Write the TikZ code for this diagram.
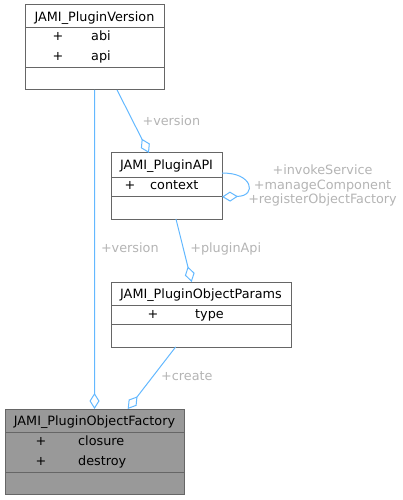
\documentclass[tikz,border=0pt]{standalone}
\usepackage{fontspec}
\setmainfont{DejaVu Sans}
\usetikzlibrary{arrows.meta,positioning}
\definecolor{edgeblue}{HTML}{63B8FF}
\definecolor{boxgray}{HTML}{666666}
\definecolor{rootgray}{HTML}{999999}
\definecolor{labelgray}{HTML}{B4B4B4}
\tikzset{
    classbox/.style={draw=boxgray, line width=1bp, inner sep=0pt, outer sep=0pt, anchor=north west},
    divider/.style={draw=boxgray, line width=1bp},
    txt/.style={inner sep=0pt, anchor=base},
    member/.style={inner sep=0pt, anchor=base west},
    assoc/.style={draw=edgeblue, line width=1bp, -{Diamond[open,length=16bp,width=10bp]}},
    elabel/.style={text=labelgray, inner sep=0pt},
}

\begin{document}
\begin{tikzpicture}[x=1bp, y=-1bp, font=\fontsize{12.8bp}{14.5bp}\selectfont]
            \useasboundingbox (0,0) rectangle (402,500);

                \node[classbox, minimum width=139bp, minimum height=85bp] (ver) at (25,5) {};
                \node[txt] (vert) at ([yshift=-16.5bp]ver.north) {JAMI\_PluginVersion};
                \node[txt] (ver1a) at ([xshift=33bp, yshift=-36bp]ver.north west) {+};
                \node[member] (ver1b) at ([xshift=66bp, yshift=-36bp]ver.north west) {abi};
                \node[txt] (ver2a) at ([xshift=33bp, yshift=-56bp]ver.north west) {+};
                \node[member] (ver2b) at ([xshift=66bp, yshift=-56bp]ver.north west) {api};
                \draw[divider] ([yshift=-23bp]ver.north west) -- ([yshift=-23bp]ver.north east);
                \draw[divider] ([yshift=-63bp]ver.north west) -- ([yshift=-63bp]ver.north east);

                \node[classbox, minimum width=111bp, minimum height=66bp] (api) at (111,153) {};
                \node[txt] (apit) at ([yshift=-16.5bp]api.north) {JAMI\_PluginAPI};
                \node[txt] (api1a) at ([xshift=19bp, yshift=-36.5bp]api.north west) {+};
                \node[member] (api1b) at ([xshift=39bp, yshift=-36.5bp]api.north west) {context};
                \draw[divider] ([yshift=-24bp]api.north west) -- ([yshift=-24bp]api.north east);
                \draw[divider] ([yshift=-43bp]api.north west) -- ([yshift=-43bp]api.north east);

                \node[classbox, minimum width=180bp, minimum height=65bp] (par) at (111,282) {};
                \node[txt] (part) at ([yshift=-16.5bp]par.north) {JAMI\_PluginObjectParams};
                \node[txt] (par1a) at ([xshift=42bp, yshift=-36bp]par.north west) {+};
                \node[member] (par1b) at ([xshift=84bp, yshift=-36bp]par.north west) {type};
                \draw[divider] ([yshift=-23bp]par.north west) -- ([yshift=-23bp]par.north east);
                \draw[divider] ([yshift=-42bp]par.north west) -- ([yshift=-42bp]par.north east);

                \node[classbox, fill=rootgray, minimum width=179bp, minimum height=85bp] (fac) at (5,409) {};
                \node[txt] (fact) at ([yshift=-16.5bp]fac.north) {JAMI\_PluginObjectFactory};
                \node[txt] (fac1a) at ([xshift=36bp, yshift=-36bp]fac.north west) {+};
                \node[member] (fac1b) at ([xshift=73bp, yshift=-36bp]fac.north west) {closure};
                \node[txt] (fac2a) at ([xshift=36bp, yshift=-56bp]fac.north west) {+};
                \node[member] (fac2b) at ([xshift=73bp, yshift=-56bp]fac.north west) {destroy};
                \draw[divider] ([yshift=-23bp]fac.north west) -- ([yshift=-23bp]fac.north east);
                \draw[divider] ([yshift=-63bp]fac.north west) -- ([yshift=-63bp]fac.north east);

                \draw[assoc] (ver.south) -- (fac.north)
                node[elabel, pos=0.5, right=6bp, yshift=2bp] {+version};
                \draw[assoc] (ver.-62) -- (api.118)
                node[elabel, pos=0.5, right=9bp, yshift=1bp] {+version};
                \draw[assoc] (api.13) .. controls (252,172) and (258,196) .. (api.-11)
                node[elabel, pos=0.5, right=1bp, yshift=-1.5bp, align=center] {+invokeService\\+manageComponent\\+registerObjectFactory};
                \draw[assoc] (api.-74) -- (par.106)
                node[elabel, pos=0.5, right=6bp, yshift=2bp] {+pluginApi};
                \draw[assoc] (par.-128) -- (fac.52)
                node[elabel, pos=0.5, right=9bp, yshift=2bp] {+create};
\end{tikzpicture}
\end{document}
